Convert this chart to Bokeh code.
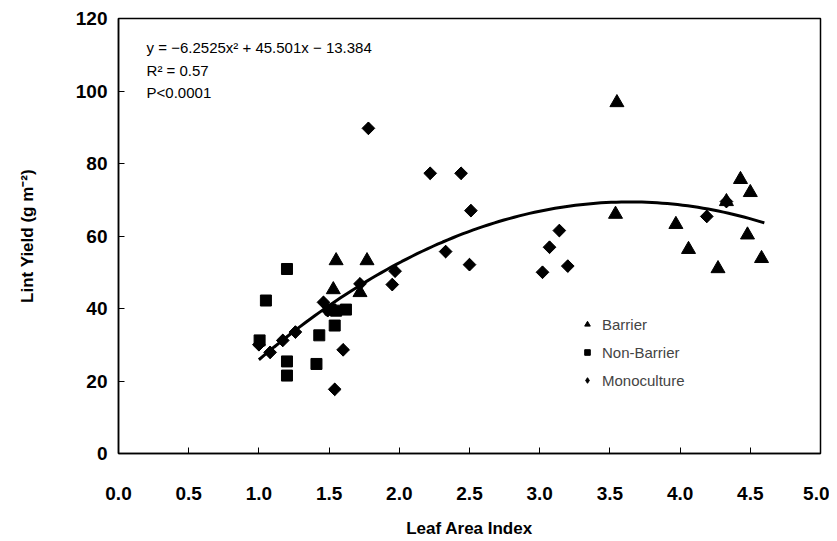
import numpy as np
from bokeh.plotting import figure
from bokeh.models import Range1d, FixedTicker, PrintfTickFormatter, Label, Legend, LegendItem
from bokeh.embed import file_html
from bokeh.resources import INLINE

# Barrier
barrier_lai = [1.55, 1.77, 1.53, 1.72, 3.55, 3.54, 3.97, 4.06, 4.27, 4.43, 4.50, 4.33, 4.48, 4.58]
barrier_yield = [53.2, 53.2, 45.2, 44.4, 96.8, 66.0, 63.2, 56.3, 51.0, 75.6, 72.0, 69.5, 60.3, 53.8]
# Non-Barrier
nonbarrier_lai = [1.20, 1.05, 1.005, 1.20, 1.20, 1.41, 1.43, 1.54, 1.55, 1.62, 1.51]
nonbarrier_yield = [50.9, 42.2, 31.2, 25.4, 21.5, 24.7, 32.6, 35.3, 39.4, 39.7, 39.7]
# Monoculture
mono_lai = [1.0, 1.08, 1.17, 1.26, 1.46, 1.49, 1.60, 1.54, 1.72, 1.97, 1.95, 1.78,
            2.22, 2.44, 2.51, 2.33, 2.50, 3.14, 3.07, 3.02, 3.20, 4.19, 4.33]
mono_yield = [30.0, 27.9, 31.2, 33.5, 41.7, 39.4, 28.6, 17.7, 46.8, 50.3, 46.6, 89.7,
              77.3, 77.3, 67.0, 55.7, 52.1, 61.5, 56.9, 50.0, 51.7, 65.4, 69.5]

# Quadratic fit printed on the chart
fit_coeffs = [-6.2525, 45.501, -13.384]
fit_x_range = [1.0, 4.6]

x_ticks = [0.0, 0.5, 1.0, 1.5, 2.0, 2.5, 3.0, 3.5, 4.0, 4.5, 5.0]
y_ticks = [0, 20, 40, 60, 80, 100, 120]

p = figure(width=829, height=541, output_backend="svg", toolbar_location=None,
           x_range=Range1d(0, 5), y_range=Range1d(0, 120),
           min_border_left=118, min_border_right=9, min_border_top=18, min_border_bottom=88)
p.xgrid.visible = False
p.ygrid.visible = False
p.outline_line_color = "black"
p.outline_line_width = 1.5
p.background_fill_color = "white"
p.border_fill_color = "white"

for ax in (p.xaxis[0], p.yaxis[0]):
    ax.axis_line_color = "black"
    ax.axis_line_width = 1.5
    ax.major_tick_in = 6
    ax.major_tick_out = 0
    ax.minor_tick_in = 0
    ax.minor_tick_out = 0
    ax.major_label_text_font = "Liberation Sans"
    ax.major_label_text_font_style = "bold"
    ax.major_label_text_font_size = "19px"
    ax.major_label_text_color = "black"
    ax.axis_label_text_font = "Liberation Sans"
    ax.axis_label_text_font_style = "bold"
    ax.axis_label_text_font_size = "17px"
    ax.axis_label_text_color = "black"

p.xaxis.ticker = FixedTicker(ticks=x_ticks)
p.xaxis.formatter = PrintfTickFormatter(format="%.1f")
p.xaxis.major_label_standoff = 33
p.xaxis.axis_label = "Leaf Area Index"
p.xaxis.axis_label_standoff = 16

p.yaxis.ticker = FixedTicker(ticks=y_ticks)
p.yaxis.major_label_standoff = 11
p.yaxis.axis_label = "Lint Yield (g m\u207b\u00b2)"
p.yaxis.axis_label_standoff = 36

xs = np.linspace(fit_x_range[0], fit_x_range[1], 100)
ys = np.polyval(fit_coeffs, xs)
p.line(xs, ys, line_color="black", line_width=3)

r_b = p.scatter(barrier_lai, barrier_yield, marker="triangle", size=14, color="black")
r_n = p.scatter(nonbarrier_lai, nonbarrier_yield, marker="square", size=11, color="black")
# diamond glyph (used for legend), covered by the rotated squares drawn on top
r_m = p.scatter(mono_lai, mono_yield, marker="diamond", size=12, color="black")
p.scatter(mono_lai, mono_yield, marker="square", size=9, angle=np.pi / 4, color="black")

legend = Legend(items=[LegendItem(label="Barrier", renderers=[r_b]),
                       LegendItem(label="Non-Barrier", renderers=[r_n]),
                       LegendItem(label="Monoculture", renderers=[r_m])],
                location=(462, 63), border_line_alpha=0, background_fill_alpha=0,
                padding=0, margin=0, spacing=8, glyph_width=14, label_standoff=8,
                label_text_font="Liberation Sans", label_text_font_size="15px")
p.add_layout(legend, "center")

eq_lines = ["y = \u22126.2525x\u00b2 + 45.501x \u2212 13.384", "R\u00b2 = 0.57", "P<0.0001"]
eq_y = [112, 105.7, 99.6]
for t, yy in zip(eq_lines, eq_y):
    p.add_layout(Label(x=0.2, y=yy, text=t, text_font="Liberation Sans",
                       text_font_size="15px", text_baseline="middle", text_color="black"))

open("out.html", "w").write(file_html(p, INLINE))
